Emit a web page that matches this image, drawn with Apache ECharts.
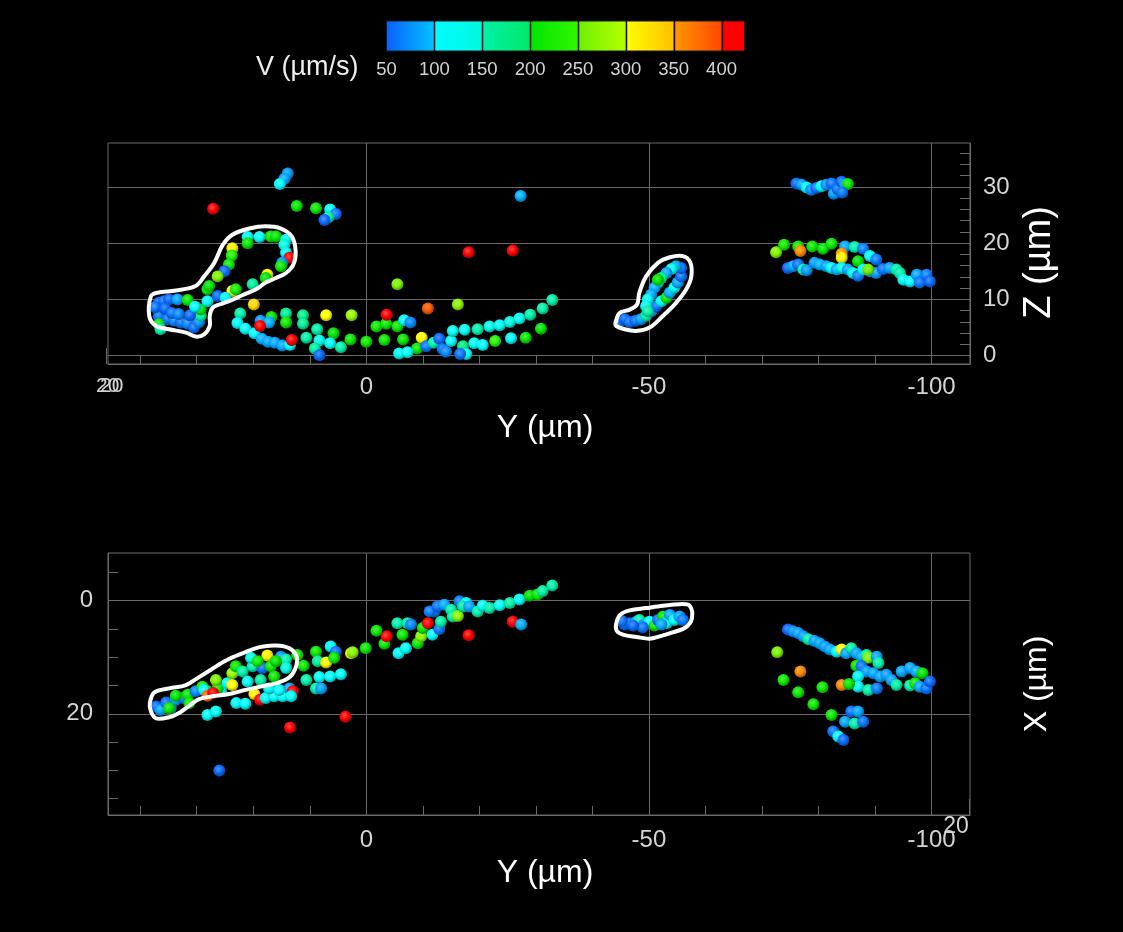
<!DOCTYPE html>
<html>
<head>
<meta charset="utf-8">
<title>Particle velocities</title>
<script src="https://cdn.jsdelivr.net/npm/echarts@6/dist/echarts.min.js"></script>
<style>
  html, body { margin: 0; padding: 0; background: #000; }
  #chart { width: 1123px; height: 932px; }
</style>
</head>
<body>
<div id="chart"></div>
<script>
// ---- Velocity colour scale (µm/s): band edges and colours at start / end of each band
const velocityBands   = [50, 100, 150, 200, 250, 300, 350, 400, 424];
const bandStartColors = ['#0a60ff', '#00fcff', '#00f0a8', '#00e400', '#6cf000', '#ffff00', '#ff9800', '#ff0000'];
const bandEndColors   = ['#00c4ff', '#00f8e0', '#00e868', '#30f800', '#b4ff00', '#ffc000', '#ff4800', '#ff0000'];
const colorbarTicks   = [50, 100, 150, 200, 250, 300, 350, 400];

// ---- Axis ticks
const yLabelValues = [0, -50, -100];
const yTickValues  = [40, 30, 20, 10, 0, -10, -20, -30, -40, -50, -60, -70, -80, -90, -100];
const zLabelValues = [0, 10, 20, 30];
const zTickValues  = [0, 2, 4, 6, 8, 10, 12, 14, 16, 18, 20, 22, 24, 26, 28, 30, 32, 34, 36];
const xLabelValues = [0, 20];
const xTickValues  = [-5, 0, 5, 10, 15, 20, 25, 30, 35];

// ---- Side view (Y, Z, V)
const sideLoop = [
  [36.7,9.4,55],[35.8,9.7,60],[34.9,10.0,55],[33.4,10.0,85],[31.6,9.9,210],[36.4,7.9,55],
  [36.7,7.0,60],[35.2,6.5,55],[34.0,6.2,65],[32.8,5.9,60],[31.6,5.7,70],[30.5,5.0,55],
  [29.6,6.0,75],[29.3,7.1,150],[29.3,8.2,200],[36.7,5.6,210],[36.4,4.7,150],[28.1,9.7,110],
  [28.1,11.8,210],[26.3,10.6,55],[23.7,11.5,300],[23.1,11.8,220],[24.9,10.3,110],
  [37.4,8.6,60],[35.6,8.4,55],[34.4,7.6,60],[33.2,7.4,70],[31.2,7.2,55],[30.3,8.7,100],
  [21.0,21.1,110],[18.9,21.1,100],[16.9,21.2,210],[16.0,21.2,205],[14.2,20.6,120],
  [14.5,19.7,140],[14.2,18.3,110],[13.6,17.4,420],[14.9,16.5,80],[15.1,15.9,210],
  [17.5,14.4,310],[17.8,13.8,200],[20.1,12.7,160],[21.0,20.0,205],[23.7,19.1,310],
  [23.8,17.8,230],[24.3,16.2,215],[25.1,15.0,55],[26.3,14.1,265],[27.8,12.4,200]
];
const sideArc = [
  [22.3,7.5,150],[16.8,6.9,200],[14.2,7.5,165],[11.2,7.2,170],[7.1,7.2,300],[2.6,7.2,280],
  [22.8,5.8,110],[14.2,5.9,215],[11.2,5.7,165],[21.4,4.8,110],[19.8,4.0,105],[18.5,3.0,90],
  [17.4,2.5,85],[16.2,2.3,85],[14.9,1.8,85],[13.5,1.9,100],[18.7,6.2,80],[17.2,5.9,90],
  [8.7,4.7,155],[5.8,4.0,200],[10.6,3.2,155],[8.3,2.7,130],[6.4,2.2,115],[4.5,1.5,150],
  [2.8,2.9,210],[0.0,2.5,215],[-3.2,2.8,210],[-6.5,2.9,205],[-9.0,1.3,210],[-9.8,3.2,300],
  [9.1,1.3,155],[8.3,0.1,55],[-1.8,5.2,215],[-3.5,5.7,210],[-5.5,5.2,210],[-6.7,6.3,110],
  [-7.8,5.9,70],[-5.8,0.4,110],[-7.3,0.6,110],[-10.6,1.7,60],[-11.9,2.3,150],[-12.9,3.0,55],
  [-13.5,1.2,60],[-14.1,0.7,70],[-15.0,2.6,110],[-15.3,4.4,115],[-17.4,4.6,120],[-17.1,1.7,180],
  [-17.7,0.3,110],[-16.6,0.3,60],[-19.1,2.2,110],[-20.6,1.9,105],[-19.7,4.7,150],[-21.8,5.2,140],
  [-23.6,5.4,120],[-25.4,6.0,145],[-27.1,6.6,110],[-29.0,7.3,150],[-22.8,2.6,240],[-25.6,3.1,110],
  [-28.2,3.2,205],[-31.2,8.4,150],[-32.9,9.9,150],[-30.9,4.8,200]
];
const sideScatter = [
  [13.9,32.4,80],[14.5,31.4,85],[15.3,30.5,100],[27.1,26.1,420],[12.3,26.6,205],[8.9,26.2,210],
  [6.4,26.0,110],[5.4,25.2,60],[6.7,24.6,150],[7.4,24.1,55],[-27.3,28.4,90],[-18.1,18.4,420],
  [-25.9,18.7,420],[-5.5,12.7,260],[-16.2,9.1,270],[-10.9,8.4,390],[-3.6,7.3,420],
  [19.9,9.1,330],[18.8,5.3,420],[13.2,2.8,420]
];
const sideMidLoop = [
  [-44.8,6.0,60],[-45.7,6.5,55],[-46.6,6.0,60],[-47.6,6.2,55],[-48.6,6.5,80],[-49.5,7.1,150],
  [-50.4,7.9,85],[-51.3,8.8,55],[-52.2,9.7,110],[-53.1,10.3,210],[-53.7,11.2,90],[-54.5,12.1,110],
  [-55.1,13.0,85],[-55.7,14.1,60],[-55.7,15.6,60],[-54.8,15.9,85],[-54.0,15.4,110],[-53.1,14.7,85],
  [-52.2,13.8,150],[-51.6,13.0,110],[-51.0,12.1,90],[-50.4,10.9,85],[-49.8,10.0,110],
  [-49.5,8.8,110],[-49.8,7.9,150],[-51.6,13.5,200]
];
const sideFarCluster = [
  [-76.1,30.6,55],[-77.0,30.4,80],[-77.9,29.9,110],[-78.7,29.5,75],[-79.6,29.8,60],[-80.5,30.1,105],
  [-81.4,30.4,80],[-82.3,30.6,60],[-82.7,28.8,80],[-83.4,29.6,60],[-84.1,30.9,55],[-84.7,30.4,85],
  [-85.2,30.5,210],[-84.2,29.0,60],
  [-72.5,18.4,265],[-73.9,19.7,215],[-76.4,19.4,210],[-76.8,18.6,360],[-78.9,19.4,210],
  [-80.8,19.0,205],[-82.3,19.9,210],[-84.7,19.4,85],[-84.1,18.1,350],[-84.1,17.4,310],
  [-86.4,19.3,150],[-87.9,19.0,65],[-87.0,16.8,200],[-89.1,17.7,110],[-90.2,17.1,65],
  [-74.6,15.6,55],[-75.5,15.9,85],[-76.4,16.2,60],[-77.3,15.3,150],[-77.9,15.2,80],
  [-79.3,16.5,80],[-80.2,16.2,90],[-81.4,15.9,85],[-82.3,15.6,110],[-83.2,15.3,90],
  [-84.1,15.6,140],[-85.2,15.3,85],[-86.1,14.7,145],[-87.0,14.2,65],[-87.9,15.3,110],
  [-89.1,15.0,85],[-90.2,14.7,80],[-91.4,15.4,60],[-92.6,15.6,85],[-93.8,15.3,150],
  [-94.4,14.7,150],[-95.0,13.5,110],[-96.2,13.2,110],[-97.4,14.4,85],[-97.9,13.0,60],
  [-99.1,14.4,65],[-99.7,13.2,55],[-88.8,15.3,250]
];

// ---- Plan view (Y, X, V)
const planLoop = [
  [37.2,18.7,55],[36.4,19.3,85],[35.4,18.0,60],[34.6,19.0,80],[33.7,17.5,85],[32.5,17.2,65],
  [31.6,16.6,205],[31.3,18.1,210],[30.2,16.0,70],[29.0,15.2,220],[28.1,16.0,200],[28.7,15.8,110],
  [25.7,16.0,110],[26.3,15.5,210],[26.6,14.0,260],[24.6,14.6,110],[23.7,14.9,305],[23.7,12.8,280],
  [23.1,11.6,210],[21.9,12.5,150],[21.0,14.3,110],[20.1,11.6,150],[20.4,10.1,140],[18.7,14.0,155],
  [18.4,11.9,60],[17.5,9.7,310],[16.9,11.6,210],[16.3,13.4,210],[15.1,9.9,80],[14.2,10.4,150],
  [14.2,11.9,145],[16.0,10.7,200],[19.2,10.7,215],[33.7,16.8,200],[34.9,19.0,210],
  [28.1,16.8,380],[27.1,16.3,420]
];
const planTrail = [
  [28.1,20.2,110],[26.6,19.6,110],[23.0,18.1,110],[21.4,18.2,110],[19.8,16.5,310],[18.8,17.5,420],
  [17.8,17.2,110],[16.3,16.9,110],[14.8,16.9,105],[13.6,15.5,85],[13.0,16.0,420],[13.3,16.9,110],
  [17.2,15.5,110],[15.4,15.8,110],
  [12.2,9.6,215],[11.1,11.5,210],[10.6,14.0,150],[8.9,15.5,150],[8.0,15.5,85],[8.3,13.5,110],
  [6.4,13.4,110],[4.5,13.0,115],[8.9,9.0,210],[8.6,10.7,160],[7.1,10.9,300],[6.3,8.1,110],
  [5.4,9.0,60],[5.7,10.1,210],[2.7,9.3,300],[2.4,9.1,270],[0.1,8.4,210],[-1.8,5.3,210],
  [-3.2,7.6,210],[-3.6,6.3,420],[-5.7,9.3,110],[-7.0,8.4,110],[-6.4,6.0,210],[-5.5,4.0,150],
  [-7.3,4.0,150],[-7.9,4.2,70],[-9.1,7.5,210],[-9.7,6.3,270],[-10.0,4.8,210],[-10.9,4.0,420],
  [-11.7,6.0,110],[-12.9,5.0,60],[-13.2,3.7,150],[-12.0,1.9,60],[-11.2,1.9,65],[-12.6,1.0,60],
  [-13.8,0.7,85],[-15.0,1.6,150],[-15.3,2.8,150],[-16.2,2.7,270],[-16.5,0.1,65],[-17.7,0.4,110],
  [-17.1,1.0,150],[-18.2,1.0,85],[-19.7,1.9,150],[-20.6,0.9,110],[-21.8,1.3,150],[-23.6,0.8,110],
  [-25.4,0.4,150],[-27.1,-0.2,110],[-28.9,-0.9,200],[-30.3,-1.1,210],[-31.2,-1.7,150],[-32.9,-2.7,150],
  [-18.1,6.1,420],[-25.9,3.7,420],[-27.4,4.2,90]
];
const planScatter = [
  [13.5,22.4,420],[3.7,20.5,420],[26.0,30.0,55]
];
const planMidLoop = [
  [-45.7,4.2,55],[-46.6,4.0,60],[-47.8,3.7,85],[-48.3,3.4,150],[-49.2,4.2,80],[-50.1,3.7,110],
  [-51.0,4.4,210],[-51.6,3.4,60],[-52.5,2.8,200],[-53.1,4.0,110],[-53.7,2.5,85],[-54.5,3.4,110],
  [-55.4,2.8,85],[-56.0,3.4,65],[-52.2,4.2,85],[-48.9,4.7,60],[-47.2,4.4,55],[-45.2,3.6,60]
];
const planFarCluster = [
  [-74.6,5.1,55],[-75.5,5.4,75],[-76.4,5.7,85],[-77.3,6.3,80],[-78.2,6.8,150],[-79.3,7.1,85],
  [-80.2,7.5,85],[-81.1,8.1,80],[-82.0,8.6,85],[-83.2,9.0,110],[-84.1,8.6,300],[-84.9,9.3,85],
  [-85.8,8.4,150],[-86.7,9.3,85],[-87.6,9.9,85],[-88.5,9.6,150],[-88.8,10.1,260],[-90.3,9.9,85],
  [-90.6,11.0,150],[-86.7,11.5,210],[-87.6,11.6,60],[-88.5,12.5,80],[-89.7,12.8,85],[-90.9,13.4,85],
  [-92.0,13.1,80],[-92.9,14.0,85],[-93.8,14.9,150],[-94.7,12.5,85],[-96.2,11.9,85],[-97.3,12.5,90],
  [-98.4,12.8,200],[-96.2,15.0,150],[-97.1,14.6,210],[-97.9,15.2,85],[-99.1,15.5,60],[-99.7,14.3,55],
  [-87.0,13.4,110],[-87.0,15.2,110],[-88.8,15.8,150],[-90.3,15.5,65],
  [-72.7,9.1,260],[-76.8,12.5,360],[-73.8,14.0,215],[-76.4,16.2,210],[-79.1,18.3,210],
  [-80.7,15.3,210],[-84.1,14.9,360],[-85.4,14.7,205],[-82.3,20.2,210],[-85.8,19.6,60],
  [-87.0,19.6,85],[-84.7,21.4,85],[-86.4,21.7,150],[-87.9,21.4,60],[-82.6,23.1,60],
  [-83.5,24.0,110],[-84.4,24.6,55]
];

// ---- Hand-drawn region outlines, in data units
const sideOutlines = [
  [[38.4,7.05],[38.1,10.6],[37.0,11.2],[33.7,11.6],[30.2,12.4],[28.7,14.1],[26.9,16.5],[25.4,19.7],
   [23.7,21.5],[20.7,22.6],[17.8,23.0],[15.1,22.6],[13.2,21.2],[12.5,18.6],[12.9,16.2],[14.2,14.7],
   [16.0,13.8],[17.8,13.0],[19.5,11.8],[21.6,10.9],[24.3,9.7],[26.0,9.1],[27.2,8.5],[27.7,7.1],
   [27.7,5.3],[28.7,3.8],[30.2,3.4],[31.9,4.1],[34.9,4.7],[37.2,5.3]],
  [[-44.1,5.9],[-44.8,7.6],[-46.6,8.2],[-47.9,9.1],[-48.3,11.2],[-49.5,14.1],[-51.6,16.5],
   [-53.7,17.5],[-56.0,17.7],[-57.3,16.6],[-57.5,14.1],[-56.6,11.8],[-54.8,9.4],[-52.5,7.1],
   [-50.1,5.0],[-47.7,4.4],[-45.4,4.8],[-44.2,5.3]]
];
const planOutlines = [
  [[38.3,18.1],[37.5,16.2],[34.9,15.5],[31.9,14.9],[29.6,13.5],[27.5,12.2],[24.9,10.6],[21.9,9.3],
   [18.9,8.2],[16.0,7.9],[13.6,8.4],[12.3,10.0],[12.6,12.1],[13.8,13.7],[16.0,14.6],[18.9,15.2],
   [21.6,15.8],[24.3,16.5],[27.2,16.9],[29.6,17.4],[31.1,18.4],[33.2,19.9],[34.9,20.6],[37.2,20.8],
   [38.1,19.6]],
  [[-44.2,4.1],[-44.9,2.5],[-46.6,1.7],[-49.5,1.3],[-52.5,0.9],[-55.5,0.6],[-57.2,0.9],[-57.6,3.1],
   [-56.5,4.7],[-54.2,5.6],[-51.9,6.3],[-50.1,6.7],[-47.8,6.4],[-45.4,6.0],[-44.3,5.3]]
];

// ---- Styling
const LINE = '#6a6a6a';
const LABEL = '#d4d4d4';
const FONT = '"Liberation Sans", Arial, Helvetica, sans-serif';
const SPHERE_R = 6;

function hexToRgb(h) {
  return [parseInt(h.slice(1, 3), 16), parseInt(h.slice(3, 5), 16), parseInt(h.slice(5, 7), 16)];
}
function velocityRgb(v) {
  const n = bandStartColors.length;
  let i = 0;
  while (i < n - 1 && v >= velocityBands[i + 1]) i++;
  const t = Math.min(1, Math.max(0, (v - velocityBands[i]) / (velocityBands[i + 1] - velocityBands[i])));
  const a = hexToRgb(bandStartColors[i]), b = hexToRgb(bandEndColors[i]);
  return a.map((c, k) => Math.round(c + (b[k] - c) * t));
}
function mixRgb(c, target, t) { return c.map((x, k) => Math.round(x + (target[k] - x) * t)); }
function css(c) { return 'rgb(' + c[0] + ',' + c[1] + ',' + c[2] + ')'; }

// Shaded sphere for one particle, placed through the axis scales
function renderSphere(params, api) {
  const p = api.coord([api.value(0), api.value(1)]);
  const base = velocityRgb(api.value(2));
  return {
    type: 'circle',
    shape: { cx: p[0], cy: p[1], r: SPHERE_R },
    style: {
      fill: new echarts.graphic.RadialGradient(0.42, 0.38, 0.62, [
        { offset: 0, color: css(mixRgb(base, [255, 255, 255], 0.3)) },
        { offset: 0.55, color: css(base) },
        { offset: 1, color: css(mixRgb(base, [0, 0, 0], 0.35)) }
      ])
    }
  };
}
function outlineRenderer(shapes) {
  return function (params, api) {
    const pts = shapes[params.dataIndex].map(p => api.coord(p));
    return {
      type: 'polygon',
      shape: { points: pts, smooth: 0.35 },
      style: { fill: 'none', stroke: '#ffffff', lineWidth: 4, lineJoin: 'round' }
    };
  };
}
function sphereSeries(data, gridIdx) {
  return {
    type: 'custom', xAxisIndex: gridIdx * 2, yAxisIndex: gridIdx * 2,
    data: data, encode: { x: 0, y: 1 }, renderItem: renderSphere, clip: true, z: 3, silent: true
  };
}
function outlineSeries(shapes, gridIdx) {
  return {
    type: 'custom', xAxisIndex: gridIdx * 2, yAxisIndex: gridIdx * 2,
    data: shapes.map(s => s[0]), encode: { x: 0, y: 1 },
    renderItem: outlineRenderer(shapes), clip: false, z: 4, silent: true
  };
}

const tickText = { color: LABEL, fontSize: 24, fontFamily: FONT };
const nameText = (size, padding) => ({ color: '#ffffff', fontSize: size, fontFamily: FONT, padding: padding });

// Horizontal Y axis: one carrying ticks/labels/name, one carrying the grid lines
function yAxes(gridIdx, nameGap, labelMargin) {
  return [
    {
      gridIndex: gridIdx, type: 'value', min: -106.8, max: 45.7, inverse: true, position: 'bottom',
      axisLine: { show: true, onZero: false, lineStyle: { color: LINE } },
      axisTick: { show: true, inside: true, length: 9, customValues: yTickValues, lineStyle: { color: LINE } },
      axisLabel: Object.assign({ show: true, customValues: yLabelValues, margin: labelMargin }, tickText),
      splitLine: { show: false },
      name: 'Y (µm)', nameLocation: 'middle', nameGap: nameGap, nameTextStyle: nameText(32, [0, 0, 0, 12])
    },
    {
      gridIndex: gridIdx, type: 'value', min: -106.8, max: 45.7, inverse: true, position: 'bottom',
      axisLine: { show: false, onZero: false }, axisTick: { show: false, customValues: yLabelValues },
      axisLabel: { show: false }, splitLine: { show: true, lineStyle: { color: LINE, width: 1 } }
    }
  ];
}

// ---- Colour bar (drawn from the band arrays)
const BAR_LEFT = 386.5, BAR_TOP = 21, BAR_H = 30, BAR_LEN = 358;
const BAR_SCALE = BAR_LEN / (velocityBands[velocityBands.length - 1] - velocityBands[0]);
const barX = v => BAR_LEFT + (v - velocityBands[0]) * BAR_SCALE;
const colorbar = [];
for (let i = 0; i < bandStartColors.length; i++) {
  const x0 = barX(velocityBands[i]), x1 = barX(velocityBands[i + 1]);
  colorbar.push({
    type: 'rect', shape: { x: x0, y: BAR_TOP, width: x1 - x0, height: BAR_H },
    style: { fill: new echarts.graphic.LinearGradient(0, 0, 1, 0, [
      { offset: 0, color: bandStartColors[i] }, { offset: 1, color: bandEndColors[i] }]) }
  });
}
for (let i = 1; i < velocityBands.length - 1; i++) {
  const x = Math.round(barX(velocityBands[i])) + 0.5;
  colorbar.push({ type: 'line', shape: { x1: x, y1: BAR_TOP, x2: x, y2: BAR_TOP + BAR_H },
    style: { stroke: '#101010', lineWidth: 1.5 } });
}
colorbar.push({ type: 'rect', shape: { x: BAR_LEFT, y: BAR_TOP, width: BAR_LEN, height: BAR_H },
  style: { fill: 'none', stroke: '#1a1a1a', lineWidth: 1 } });
colorbarTicks.forEach(v => colorbar.push({
  type: 'text', x: barX(v), y: 70,
  style: { text: String(v), fill: LABEL, font: '18.5px ' + FONT, align: 'center', verticalAlign: 'middle' }
}));
colorbar.push({ type: 'text', x: 358.5, y: 68,
  style: { text: 'V (µm/s)', fill: '#eeeeee', font: '27px ' + FONT, align: 'right', verticalAlign: 'middle' } });

// Stray labels and stubs of the hidden depth axes
const strays = [
  { type: 'text', x: 96, y: 386, style: { text: '20', fill: LABEL, font: '21px ' + FONT, align: 'left', verticalAlign: 'middle' } },
  { type: 'text', x: 100, y: 386, style: { text: '20', fill: LABEL, font: '21px ' + FONT, align: 'left', verticalAlign: 'middle' } },
  { type: 'text', x: 956, y: 827, style: { text: '20', fill: LABEL, font: '23px ' + FONT, align: 'center', verticalAlign: 'middle' } },
  { type: 'line', shape: { x1: 106.5, y1: 348, x2: 106.5, y2: 364 }, style: { stroke: LINE, lineWidth: 1 } },
  { type: 'line', shape: { x1: 969.5, y1: 799, x2: 969.5, y2: 815 }, style: { stroke: LINE, lineWidth: 1 } }
];

const chart = echarts.init(document.getElementById('chart'), null, { renderer: 'canvas' });
chart.setOption({
  backgroundColor: '#000000',
  animation: false,
  textStyle: { fontFamily: FONT },
  grid: [
    { left: 108, top: 143, width: 862, height: 221, show: true, borderColor: LINE, borderWidth: 1, backgroundColor: 'transparent' },
    { left: 108, top: 553, width: 862, height: 262, show: true, borderColor: LINE, borderWidth: 1, backgroundColor: 'transparent' }
  ],
  xAxis: [].concat(yAxes(0, 48, 11), yAxes(1, 42, 13)),
  yAxis: [
    // side view: Z on the right
    {
      gridIndex: 0, type: 'value', min: -1.47, max: 37.8, position: 'right',
      axisLine: { show: true, onZero: false, lineStyle: { color: LINE } },
      axisTick: { show: true, inside: true, length: 10, customValues: zTickValues, lineStyle: { color: LINE } },
      axisLabel: Object.assign({ show: true, customValues: zLabelValues, margin: 13 }, tickText),
      splitLine: { show: false },
      name: 'Z (µm)', nameLocation: 'middle', nameRotate: 90, nameGap: 51,
      nameTextStyle: nameText(38, [0, 18, 0, 0])
    },
    {
      gridIndex: 0, type: 'value', min: -1.47, max: 37.8, position: 'right',
      axisLine: { show: false, onZero: false }, axisTick: { show: false, customValues: zLabelValues },
      axisLabel: { show: false }, splitLine: { show: true, lineStyle: { color: LINE, width: 1 } }
    },
    // plan view: X, increasing downwards, labels on the left
    {
      gridIndex: 1, type: 'value', min: -8.44, max: 37.88, inverse: true, position: 'left',
      axisLine: { show: true, onZero: false, lineStyle: { color: LINE } },
      axisTick: { show: true, inside: true, length: 10, customValues: xTickValues, lineStyle: { color: LINE } },
      axisLabel: Object.assign({ show: true, customValues: xLabelValues, margin: 15 }, tickText),
      splitLine: { show: false }
    },
    {
      gridIndex: 1, type: 'value', min: -8.44, max: 37.88, inverse: true, position: 'right',
      axisLine: { show: false, onZero: false }, axisTick: { show: false, customValues: xLabelValues },
      axisLabel: { show: false }, splitLine: { show: true, lineStyle: { color: LINE, width: 1 } },
      name: 'X (µm)', nameLocation: 'middle', nameRotate: 90, nameGap: 51, nameTextStyle: nameText(32)
    }
  ],
  series: [
    sphereSeries(sideArc, 0), sphereSeries(sideScatter, 0), sphereSeries(sideLoop, 0),
    sphereSeries(sideMidLoop, 0), sphereSeries(sideFarCluster, 0),
    outlineSeries(sideOutlines, 0),
    sphereSeries(planTrail, 1), sphereSeries(planScatter, 1), sphereSeries(planLoop, 1),
    sphereSeries(planMidLoop, 1), sphereSeries(planFarCluster, 1),
    outlineSeries(planOutlines, 1)
  ],
  graphic: { elements: colorbar.concat(strays) }
});
</script>
</body>
</html>
